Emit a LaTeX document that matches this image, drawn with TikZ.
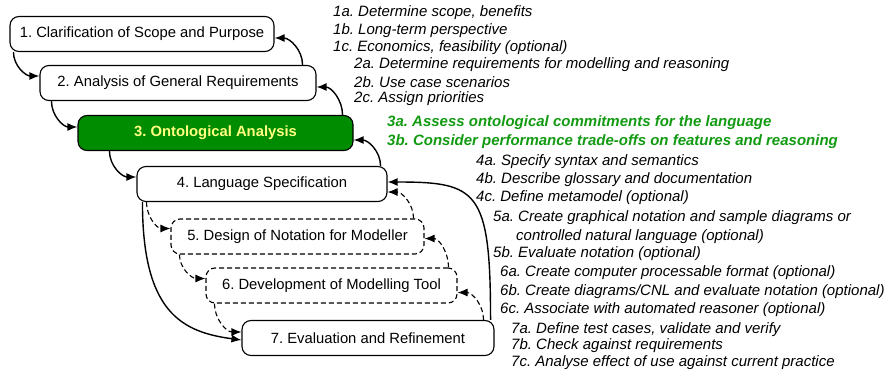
\documentclass[tikz,border=0pt]{standalone}
\usepackage{fontspec}
\setmainfont{Liberation Sans}
\usepackage{xcolor}
\usepackage{tikz}
\usetikzlibrary{positioning,arrows.meta,calc}
\definecolor{cverde}{HTML}{008C00}
\definecolor{camarillo}{HTML}{FFFF80}
\definecolor{cverdetxt}{HTML}{129A12}
\frenchspacing

\begin{document}
\begin{tikzpicture}[x=1pt,y=-1pt,
    phase/.style={draw,line width=1.1pt,rounded corners=9pt,minimum height=35pt,font=\fontsize{14.8}{16}\selectfont,inner sep=0pt},
    optphase/.style={phase,dash pattern=on 5pt off 3pt},
    flow/.style={-{Latex[length=10pt,width=8pt]},line width=1.4pt},
    optflow/.style={flow,line width=1.1pt,dash pattern=on 5pt off 3pt},
    substep/.style={anchor=west,inner sep=0pt,font=\fontsize{15}{16}\itshape\selectfont}]
  \useasboundingbox (0,0) rectangle (892,372);
  % phases
  \node[phase,minimum width=264pt] (p1) at (142,34) {1. Clarification of Scope and Purpose};
  \node[phase,minimum width=276pt] (p2) at (178,83) {2. Analysis of General Requirements};
  \node[phase,minimum width=275pt,fill=cverde,text=camarillo,font=\fontsize{14.8}{16}\bfseries\selectfont] (p3) at (215.5,133) {3. Ontological Analysis};
  \node[phase,minimum width=250pt] (p4) at (262,184) {4. Language Specification};
  \node[optphase,minimum width=253pt] (p5) at (297.5,236.5) {5. Design of Notation for Modeller};
  \node[optphase,minimum width=251pt] (p6) at (331.5,285.5) {6. Development of Modelling Tool};
  \node[phase,minimum width=252pt] (p7) at (368,338) {7. Evaluation and Refinement};
  % forward
  \draw[flow] ([xshift=4pt]p1.south west) to[out=-90,in=180] ([yshift=7pt]p2.west);
  \draw[flow] ([xshift=12pt]p2.south west) to[out=-90,in=180] ([yshift=6pt]p3.west);
  \draw[flow] ([xshift=32pt]p3.south west) to[out=-90,in=180] ([yshift=7pt]p4.west);
  \draw[optflow] ([xshift=10pt]p4.south west) to[out=-90,in=180] ([yshift=8pt]p5.west);
  \draw[optflow] ([xshift=9pt]p5.south west) to[out=-90,in=180] ([yshift=7pt]p6.west);
  \draw[optflow] ([xshift=9pt]p6.south west) to[out=-90,in=180] ([yshift=6pt]p7.west);
  \draw[flow] ([xshift=6pt]p4.south west) .. controls +(0,110) and +(-60,-8) .. ([yshift=-2pt]p7.west);
  % feedback
  \draw[flow] ([xshift=-14pt]p2.north east) to[out=90,in=0] ([yshift=-4pt]p1.east);
  \draw[flow] ([xshift=-11pt]p3.north east) to[out=90,in=0] ([yshift=-4pt]p2.east);
  \draw[flow] ([xshift=-7pt]p4.north east) to[out=90,in=0] ([yshift=-7pt]p3.east);
  \draw[optflow] ([xshift=-11pt]p5.north east) to[out=90,in=0] ([yshift=-8pt]p4.east);
  \draw[optflow] ([xshift=-9pt]p6.north east) to[out=90,in=0] ([yshift=-2pt]p5.east);
  \draw[optflow] ([xshift=-11pt]p7.north east) to[out=90,in=0] ([yshift=-7pt]p6.east);
  \draw[flow] ([xshift=-4pt]p7.north east) .. controls +(0,-130) and +(90,0) .. ([yshift=2pt]p4.east);
  % sub-steps
  \node[substep] (s1a) at (333,13) {1a. Determine scope, benefits};
  \node[substep] (s1b) at (333,31) {1b. Long-term perspective};
  \node[substep] (s1c) at (333,48) {1c. Economics, feasibility (optional)};
  \node[substep] (s2a) at (354,65) {2a. Determine requirements for modelling and reasoning};
  \node[substep] (s2b) at (354,82) {2b. Use case scenarios};
  \node[substep] (s2c) at (354,99) {2c. Assign priorities};
  \node[substep,text=cverdetxt,font=\fontsize{15}{16}\bfseries\itshape\selectfont] (s3a) at (387,123) {3a. Assess ontological commitments for the language};
  \node[substep,text=cverdetxt,font=\fontsize{15}{16}\bfseries\itshape\selectfont] (s3b) at (387,142) {3b. Consider performance trade-offs on features and reasoning};
  \node[substep] (s4a) at (476,162) {4a. Specify syntax and semantics};
  \node[substep] (s4b) at (476,180) {4b. Describe glossary and documentation};
  \node[substep] (s4c) at (476,198) {4c. Define metamodel (optional)};
  \node[substep] (s5a) at (493,218) {5a. Create graphical notation and sample diagrams or};
  \node[substep] (s5x) at (516,237) {controlled natural language (optional)};
  \node[substep] (s5b) at (493,254) {5b. Evaluate notation (optional)};
  \node[substep] (s6a) at (500,273) {6a. Create computer processable format (optional)};
  \node[substep] (s6b) at (500,292) {6b. Create diagrams/CNL and evaluate notation (optional)};
  \node[substep] (s6c) at (500,310) {6c. Associate with automated reasoner (optional)};
  \node[substep] (s7a) at (511,330) {7a. Define test cases, validate and verify};
  \node[substep] (s7b) at (511,346) {7b. Check against requirements};
  \node[substep] (s7c) at (511,363) {7c. Analyse effect of use against current practice};
\end{tikzpicture}
\end{document}
